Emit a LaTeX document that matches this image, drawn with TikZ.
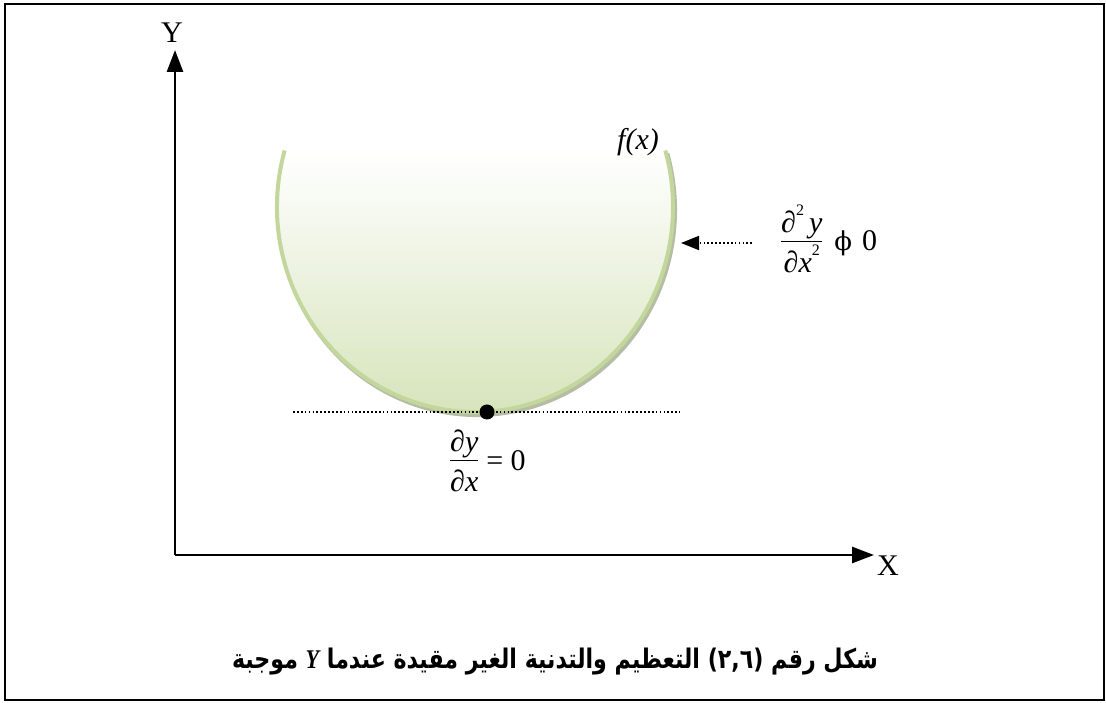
\documentclass[tikz,border=0pt]{standalone}
\usepackage{fontspec}
\usepackage{graphicx}
\setmainfont{Liberation Serif}
\newfontfamily\arabicfont[Script=Arabic]{DejaVu Sans}
\newfontfamily\dvserif{DejaVu Serif}
\TeXXeTstate=1
\usetikzlibrary{arrows.meta}
\definecolor{bowlline}{HTML}{C3D69B}
\definecolor{bowlfill}{HTML}{D3E2B6}
\definecolor{bowlshadow}{HTML}{A3AE8E}
\newcommand{\supsc}[1]{\raisebox{0.55em}{\fontsize{16}{18}\selectfont\upshape #1}}
\newcommand{\fracbar}[2]{\ensuremath{\vcenter{\hbox{\begin{tabular}{@{}c@{}}#1\\[-2pt]\hline\rule{0pt}{30pt}#2\end{tabular}}}}}
\begin{document}
\begin{tikzpicture}[x=1pt,y=1pt,
  font=\fontsize{30}{36}\selectfont,
  axis/.style={line width=2.8, -{Triangle[length=22,width=16]}},
  dotline/.style={line width=1.7, dash pattern=on 1.7 off 2.2},
  lbl/.style={inner sep=0}]
\useasboundingbox (0,0) rectangle (1106,702);
\draw[line width=2.5] (5,2) rectangle (1104,698);

% axes
\coordinate (O) at (175,147);
\coordinate (Ytip) at (175,652);
\coordinate (Xtip) at (874,147);
\draw[axis] (O) -- (Ytip);
\draw[axis] (O) -- (Xtip);
\node[lbl] (ylab) at (172,669) {Y};
\node[lbl] (xlab) at (888,136) {X};

% bowl
\draw[bowlshadow, line width=4, opacity=0.8, shift={(2,-3)}] (475,495) ++(200:198 and 205)
  arc[start angle=200, end angle=376, x radius=198, y radius=205];
\shade[top color=white, bottom color=bowlfill] (475,495) ++(164:198 and 205)
  arc[start angle=164, end angle=376, x radius=198, y radius=205] -- cycle;
\draw[bowlline, line width=4] (475,495) ++(164:198 and 205)
  arc[start angle=164, end angle=376, x radius=198, y radius=205];

% tangent line and minimum
\coordinate (tl) at (293,290);
\coordinate (tr) at (680,290);
\draw[dotline] (tl) -- (tr);
\node[circle, fill=black, inner sep=0, minimum size=15] (min) at (487,290) {};

\node[lbl, anchor=west] (d1) at (450,238) {\setlength{\arrayrulewidth}{1.2pt}\fracbar{\itshape ∂y}{\itshape ∂x}\hspace{8pt}= 0};

% second derivative arrow
\coordinate (as) at (752,459);
\coordinate (ae) at (681,459);
\draw[dotline, -{Triangle[length=18,width=14]}] (as) -- (ae);
\node[lbl, anchor=west] (d2) at (781,458) {\setlength{\arrayrulewidth}{1.2pt}\fracbar{\itshape ∂\supsc{2}\,y}{\itshape ∂x\supsc{2}}\hspace{12pt}{\dvserif\fontsize{26}{30}\selectfont ϕ}\hspace{10pt}0};

\node[lbl] (fx) at (638,560) {\itshape f(x)};

% caption
\node[lbl] (cap) at (555,40) {\scalebox{0.82}[1]{\fontsize{27}{32}\selectfont\arabicfont\bfseries\beginR شكل رقم \beginL(٢,٦)\endL{} التعظيم والتدنية الغير مقيدة عندما \beginL{\rmfamily\bfseries\itshape Y}\endL{} موجبة\endR}};
\end{tikzpicture}
\end{document}
